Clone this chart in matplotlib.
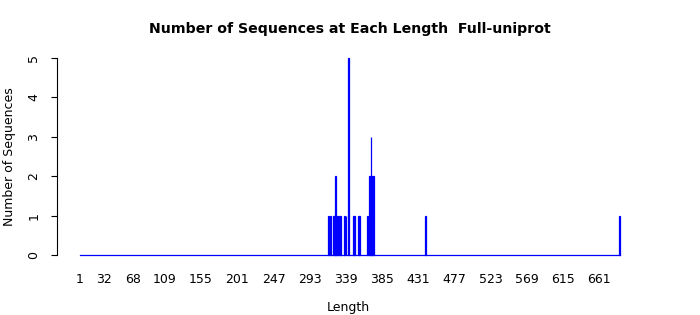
import matplotlib
matplotlib.use("Agg")
import matplotlib.pyplot as plt
import numpy as np

# sequence lengths that occur, and how many sequences have each length
lengths = [317, 319, 323, 325, 326, 327, 328, 331, 332, 337, 339, 342,
           349, 350, 355, 356, 366, 369, 370, 371, 372, 373, 374, 440, 687]
counts = [1, 1, 1, 1, 2, 1, 1, 1, 1, 1, 1, 5,
          1, 1, 1, 1, 1, 2, 2, 3, 2, 2, 2, 1, 1]
max_length = 687
tick_labels = [1, 32, 68, 109, 155, 201, 247, 293, 339, 385, 431, 477, 523, 569, 615, 661]

all_lengths = np.arange(1, max_length + 1)

W, H = 700, 315
fig = plt.figure(figsize=(W / 100, H / 100), dpi=100)
ax = fig.add_axes([57 / W, 1 - 263 / H, (640 - 57) / W, (263 - 50) / H])

ax.bar(lengths, counts, width=1.0, color="#0000ff",
       edgecolor="#0000ff", linewidth=0.9)
# zero-count bars show up as a flat line along the bottom
ax.plot([all_lengths[0] - 0.5, all_lengths[-1] + 0.5], [0, 0],
        color="#0000ff", linewidth=0.9)

ax.set_xlim(-28.1, 712.7)
ax.set_ylim(-0.203, 5.203)

for s in ["top", "right", "bottom"]:
    ax.spines[s].set_visible(False)
ax.spines["left"].set_bounds(0, 5)
ax.spines["left"].set_linewidth(0.8)

ax.set_yticks(range(6))
ax.set_yticklabels([str(v) for v in range(6)], rotation=90, va="center", fontsize=9)
ax.tick_params(axis="y", length=4, width=0.8, pad=8)

ax.set_xticks(tick_labels)
ax.set_xticklabels([str(v) for v in tick_labels], fontsize=9)
ax.tick_params(axis="x", length=0, pad=7)

ax.set_xlabel("Length", fontsize=9, labelpad=11)
ax.set_ylabel("Number of Sequences", fontsize=9, labelpad=8)
fig.text(350 / W, 1 - 29 / H, "Number of Sequences at Each Length  Full-uniprot",
         ha="center", va="center", fontsize=10.2, fontweight="bold")

fig.savefig("out.png", dpi=100)
